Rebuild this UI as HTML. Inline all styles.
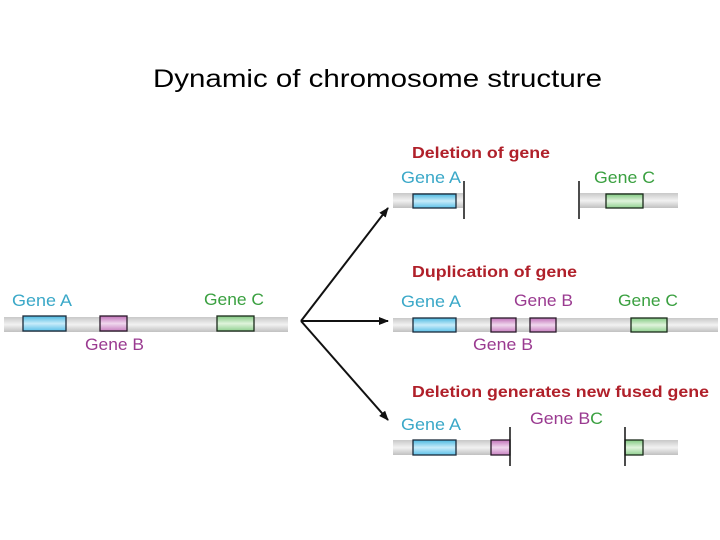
<!DOCTYPE html>
<html><head><meta charset="utf-8"><style>
html,body{margin:0;padding:0;background:#fff;}
svg{display:block;}
.g{font-family:"Liberation Sans",sans-serif;font-size:17px;}
.r{font-family:"Liberation Sans",sans-serif;font-size:16px;font-weight:bold;fill:#b0202a;}
</style></head><body>
<svg width="720" height="540" viewBox="0 0 720 540" xmlns="http://www.w3.org/2000/svg">
<defs>
<linearGradient id="bar" x1="0" y1="0" x2="0" y2="1"><stop offset="0" stop-color="#c8c8c8"/><stop offset="0.5" stop-color="#f2f2f2"/><stop offset="1" stop-color="#c0c0c0"/></linearGradient>
<linearGradient id="bl" x1="0" y1="0" x2="0" y2="1"><stop offset="0" stop-color="#4ab8e0"/><stop offset="0.5" stop-color="#c8ecfa"/><stop offset="1" stop-color="#5cc0e8"/></linearGradient>
<linearGradient id="pu" x1="0" y1="0" x2="0" y2="1"><stop offset="0" stop-color="#c070b8"/><stop offset="0.5" stop-color="#f0d8ee"/><stop offset="1" stop-color="#c880c0"/></linearGradient>
<linearGradient id="gr" x1="0" y1="0" x2="0" y2="1"><stop offset="0" stop-color="#80c880"/><stop offset="0.5" stop-color="#e0f4dc"/><stop offset="1" stop-color="#90d090"/></linearGradient>
<marker id="ah" markerWidth="10" markerHeight="8" refX="9" refY="4" orient="auto" markerUnits="userSpaceOnUse"><path d="M0,0 L10,4 L0,8 z" fill="#111"/></marker>
</defs>
<text x="153" y="87" font-family="Liberation Sans, sans-serif" font-size="25" fill="#000" textLength="449" lengthAdjust="spacingAndGlyphs">Dynamic of chromosome structure</text>

<rect x="4" y="317" width="284" height="15" fill="url(#bar)"/>
<rect x="23" y="316" width="43" height="15" fill="url(#bl)" stroke="#1a2a3a" stroke-width="1.3"/>
<rect x="100" y="316" width="27" height="15" fill="url(#pu)" stroke="#2a1a2a" stroke-width="1.3"/>
<rect x="217" y="316" width="37" height="15" fill="url(#gr)" stroke="#1a2a1a" stroke-width="1.3"/>
<text class="g" x="12" y="306" fill="#3aa8c8" textLength="60" lengthAdjust="spacingAndGlyphs">Gene A</text>
<text class="g" x="85" y="350" fill="#9a3a90" textLength="59" lengthAdjust="spacingAndGlyphs">Gene B</text>
<text class="g" x="204" y="305" fill="#3aa040" textLength="60" lengthAdjust="spacingAndGlyphs">Gene C</text>

<g stroke="#111" stroke-width="2" fill="none">
<line x1="301" y1="321" x2="388" y2="208" marker-end="url(#ah)"/>
<line x1="301" y1="321" x2="388" y2="321" marker-end="url(#ah)"/>
<line x1="301" y1="321" x2="388" y2="420" marker-end="url(#ah)"/>
</g>

<text class="r" x="412" y="158" textLength="138" lengthAdjust="spacingAndGlyphs">Deletion of gene</text>
<text class="g" x="401" y="183" fill="#3aa8c8" textLength="60" lengthAdjust="spacingAndGlyphs">Gene A</text>
<text class="g" x="594" y="183" fill="#3aa040" textLength="61" lengthAdjust="spacingAndGlyphs">Gene C</text>
<rect x="393" y="193" width="70" height="15" fill="url(#bar)"/>
<rect x="413" y="194" width="43" height="14" fill="url(#bl)" stroke="#1a2a3a" stroke-width="1.3"/>
<line x1="464" y1="181" x2="464" y2="219" stroke="#111" stroke-width="1.5"/>
<rect x="580" y="193" width="98" height="15" fill="url(#bar)"/>
<rect x="606" y="194" width="37" height="14" fill="url(#gr)" stroke="#1a2a1a" stroke-width="1.3"/>
<line x1="579" y1="181" x2="579" y2="219" stroke="#111" stroke-width="1.5"/>

<text class="r" x="412" y="277" textLength="165" lengthAdjust="spacingAndGlyphs">Duplication of gene</text>
<text class="g" x="401" y="307" fill="#3aa8c8" textLength="60" lengthAdjust="spacingAndGlyphs">Gene A</text>
<text class="g" x="514" y="306" fill="#9a3a90" textLength="59" lengthAdjust="spacingAndGlyphs">Gene B</text>
<text class="g" x="618" y="306" fill="#3aa040" textLength="60" lengthAdjust="spacingAndGlyphs">Gene C</text>
<text class="g" x="473" y="350" fill="#9a3a90" textLength="60" lengthAdjust="spacingAndGlyphs">Gene B</text>
<rect x="393" y="318" width="325" height="14" fill="url(#bar)"/>
<rect x="413" y="318" width="43" height="14" fill="url(#bl)" stroke="#1a2a3a" stroke-width="1.3"/>
<rect x="491" y="318" width="25" height="14" fill="url(#pu)" stroke="#2a1a2a" stroke-width="1.3"/>
<rect x="530" y="318" width="26" height="14" fill="url(#pu)" stroke="#2a1a2a" stroke-width="1.3"/>
<rect x="631" y="318" width="36" height="14" fill="url(#gr)" stroke="#1a2a1a" stroke-width="1.3"/>

<text class="r" x="412" y="397" textLength="297" lengthAdjust="spacingAndGlyphs">Deletion generates new fused gene</text>
<text class="g" x="401" y="430" fill="#3aa8c8" textLength="60" lengthAdjust="spacingAndGlyphs">Gene A</text>
<text class="g" x="530" y="424" fill="#9a3a90" textLength="73" lengthAdjust="spacingAndGlyphs">Gene B<tspan fill="#3aa040">C</tspan></text>
<rect x="393" y="440" width="117" height="15" fill="url(#bar)"/>
<rect x="413" y="440" width="43" height="15" fill="url(#bl)" stroke="#1a2a3a" stroke-width="1.3"/>
<rect x="491" y="440" width="19" height="15" fill="url(#pu)" stroke="#2a1a2a" stroke-width="1.3"/>
<line x1="510" y1="427" x2="510" y2="466" stroke="#111" stroke-width="1.5"/>
<rect x="625" y="440" width="53" height="15" fill="url(#bar)"/>
<rect x="625" y="440" width="18" height="15" fill="url(#gr)" stroke="#1a2a1a" stroke-width="1.3"/>
<line x1="625" y1="427" x2="625" y2="466" stroke="#111" stroke-width="1.5"/>
</svg>
</body></html>
